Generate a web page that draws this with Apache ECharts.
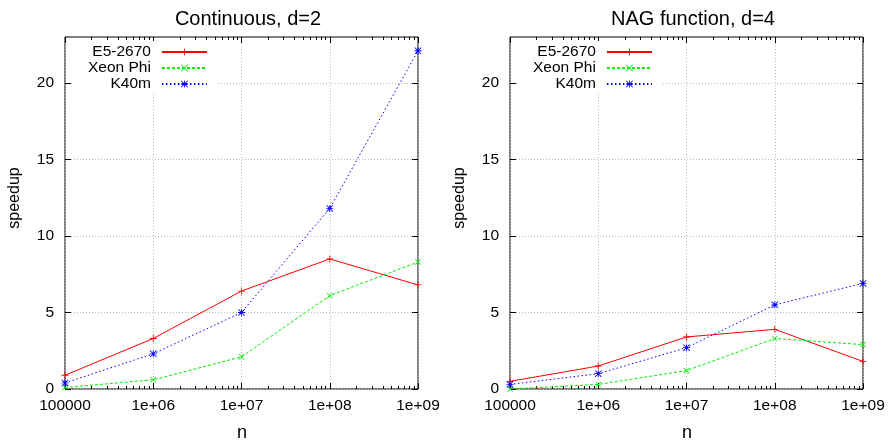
<!DOCTYPE html>
<html>
<head>
<meta charset="utf-8">
<style>
  html, body { margin: 0; padding: 0; background: #fff; }
  #chart { width: 890px; height: 440px; }
</style>
<script src="https://cdn.jsdelivr.net/npm/echarts@6/dist/echarts.min.js"></script>
</head>
<body>
<div id="chart"></div>
<script>
// Problem sizes (x axis, log scale)
const nValues = [1e5, 1e6, 1e7, 1e8, 1e9];
const xTickLabels = ['100000', '1e+06', '1e+07', '1e+08', '1e+09'];
const minorTicks = [];
for (let e = 5; e < 9; e++) for (let m = 2; m <= 9; m++) minorTicks.push(m * Math.pow(10, e));
const yTicks = [0, 5, 10, 15, 20];

const seriesNames = ['E5-2670', 'Xeon Phi', 'K40m'];

// Continuous, d=2
const contE5 = [0.9, 3.3, 6.4, 8.5, 6.8];
const contPhi = [0.1, 0.6, 2.1, 6.1, 8.3];
const contK40 = [0.4, 2.3, 5.0, 11.8, 22.1];

// NAG function, d=4
const nagE5 = [0.5, 1.5, 3.4, 3.9, 1.8];
const nagPhi = [0.0, 0.3, 1.2, 3.3, 2.9];
const nagK40 = [0.3, 1.0, 2.7, 5.5, 6.9];

const panelTitles = ['Continuous, d=2', 'NAG function, d=4'];

const FONT = '"Liberation Sans", Arial, Helvetica, sans-serif';
const PLOT_W = 353, PLOT_TOP = 37, PLOT_BOTTOM = 51;
const panelLeft = [65, 510];

// gnuplot-like point types: plus, cross, asterisk
const PLUS = 'path://M4.4,0H5.6V4.4H10V5.6H5.6V10H4.4V5.6H0V4.4H4.4Z';
const CROSS = 'path://M0.85,0L5,4.15L9.15,0L10,0.85L5.85,5L10,9.15L9.15,10L5,5.85L0.85,10L0,9.15L4.15,5L0,0.85Z';
const STAR = 'path://M4.4,0H5.6V4.4H10V5.6H5.6V10H4.4V5.6H0V4.4H4.4Z' +
             'M0.85,0L5,4.15L9.15,0L10,0.85L5.85,5L10,9.15L9.15,10L5,5.85L0.85,10L0,9.15L4.15,5L0,0.85Z';

const styles = [
  { color: '#ff0000', symbol: PLUS, size: 7, type: 'solid' },
  { color: '#00ee00', symbol: CROSS, size: 6, type: [3, 2] },
  { color: '#0000ff', symbol: STAR, size: 7, type: [1.5, 2.5] }
];

const panels = [[contE5, contPhi, contK40], [nagE5, nagPhi, nagK40]];

const grids = [], xAxes = [], yAxes = [], series = [], legends = [], titles = [], graphics = [];

panels.forEach((panel, p) => {
  grids.push({
    left: panelLeft[p], width: PLOT_W, top: PLOT_TOP, bottom: PLOT_BOTTOM,
    show: true, borderColor: '#000', borderWidth: 1, backgroundColor: 'transparent'
  });
  const baseX = {
    type: 'log', logBase: 10, min: 1e5, max: 1e9, gridIndex: p,
    axisLine: { show: false }, splitLine: { show: false }, axisLabel: { show: false },
    axisTick: { show: true, inside: true, length: 6, lineStyle: { color: '#000', width: 1 } }
  };
  const xi = xAxes.length;
  // bottom: labels, major ticks, grid lines
  xAxes.push(Object.assign({}, baseX, {
    position: 'bottom',
    axisLabel: {
      show: true, color: '#000', fontFamily: FONT, fontSize: 15.5, margin: 9,
      formatter: v => xTickLabels[Math.round(Math.log10(v)) - 5]
    },
    splitLine: { show: true, lineStyle: { color: '#bbbbbb', type: [1, 2], width: 1 } }
  }));
  // bottom minor ticks
  xAxes.push(Object.assign({}, baseX, {
    position: 'bottom',
    axisTick: { show: true, inside: true, length: 3, customValues: minorTicks, lineStyle: { color: '#000' } }
  }));
  // top mirror major and minor ticks
  xAxes.push(Object.assign({}, baseX, { position: 'top' }));
  xAxes.push(Object.assign({}, baseX, {
    position: 'top',
    axisTick: { show: true, inside: true, length: 3, customValues: minorTicks, lineStyle: { color: '#000' } }
  }));

  const yi = yAxes.length;
  const baseY = {
    type: 'value', min: 0, max: 23, interval: 5, gridIndex: p,
    axisLine: { show: false },
    axisTick: { show: true, inside: true, length: 6, customValues: yTicks, lineStyle: { color: '#000' } }
  };
  yAxes.push(Object.assign({}, baseY, {
    position: 'left',
    axisLabel: {
      show: true, color: '#000', fontFamily: FONT, fontSize: 15.5, margin: 11,
      customValues: yTicks
    },
    splitLine: { show: true, lineStyle: { color: '#bbbbbb', type: [1, 2], width: 1 } }
  }));
  yAxes.push(Object.assign({}, baseY, {
    position: 'right', axisLabel: { show: false }, splitLine: { show: false }
  }));

  panel.forEach((vals, s) => {
    const st = styles[s];
    series.push({
      name: seriesNames[s], type: 'line', xAxisIndex: xi, yAxisIndex: yi,
      data: nValues.map((n, i) => [n, vals[i]]),
      symbol: st.symbol, symbolSize: st.size, showSymbol: true,
      itemStyle: { color: st.color },
      lineStyle: { color: st.color, width: 1, type: st.type },
      z: 3 + s
    });
  });

  // key box: right-aligned labels followed by the line sample
  legends.push({
    data: seriesNames, orient: 'vertical', align: 'right',
    left: panelLeft[p] + 8, top: PLOT_TOP + 4,
    padding: [3, 8, 2, 15], itemGap: 0, itemWidth: 45, itemHeight: 9,
    backgroundColor: '#fff', selectedMode: false,
    formatter: name => '{k|' + name + '}',
    textStyle: {
      color: '#000', fontFamily: FONT, fontSize: 15.5, lineHeight: 16,
      rich: { k: { color: '#000', fontFamily: FONT, fontSize: 15.5, lineHeight: 16, padding: [0, 6, 0, 0] } }
    }
  });

  titles.push({
    text: panelTitles[p], left: panelLeft[p] + 178, top: 4, textAlign: 'center',
    textStyle: { color: '#000', fontFamily: FONT, fontSize: 20, fontWeight: 'normal' }
  });

  graphics.push({
    type: 'text', x: panelLeft[p] - 50, y: 198, rotation: Math.PI / 2,
    style: { text: 'speedup', fill: '#000', font: '16px ' + FONT, textAlign: 'center', textVerticalAlign: 'middle' }
  });
  graphics.push({
    type: 'text', x: panelLeft[p] + 177, y: 433,
    style: { text: 'n', fill: '#000', font: '18px ' + FONT, textAlign: 'center', textVerticalAlign: 'middle' }
  });
});

const chart = echarts.init(document.getElementById('chart'), null, { renderer: 'canvas' });
chart.setOption({
  animation: false,
  backgroundColor: '#fff',
  title: titles,
  legend: legends,
  grid: grids,
  xAxis: xAxes,
  yAxis: yAxes,
  series: series,
  graphic: graphics
});
</script>
</body>
</html>
